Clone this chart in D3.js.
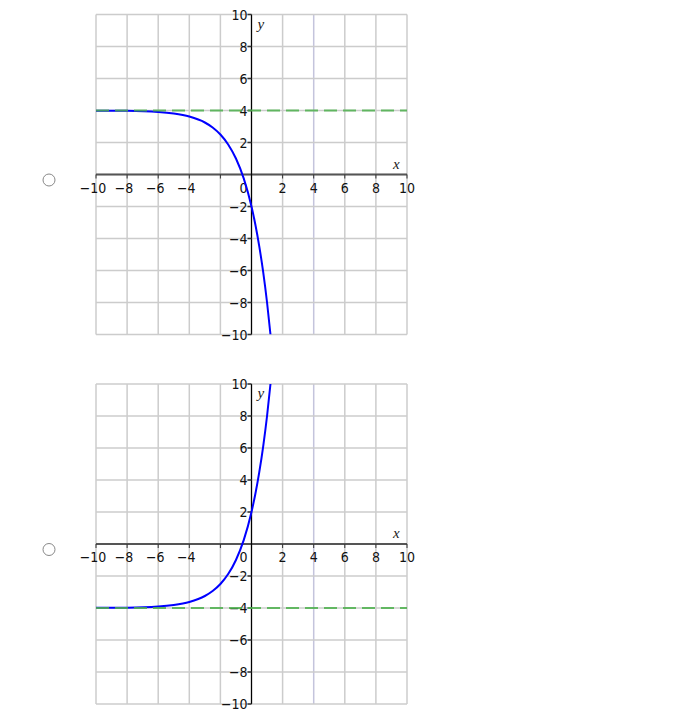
<!DOCTYPE html>
<html>
<head>
<meta charset="utf-8">
<script src="https://cdn.jsdelivr.net/npm/d3@7"></script>
<style>
  body { margin: 0; background: #fff; }
  svg { display: block; }
  .tick-lbl { font-family: "DejaVu Sans Condensed", "DejaVu Sans", sans-serif; font-size: 14px; fill: #111; }
  .ax-name { font-family: "Liberation Serif", serif; font-style: italic; font-size: 15px; fill: #222; }
</style>
</head>
<body>
<svg id="chart" width="698" height="728"></svg>
<script>
// values
const gridTicks = [-10, -8, -6, -4, -2, 0, 2, 4, 6, 8, 10];
const xLabels = [-10, -8, -6, -4, 0, 2, 4, 6, 8, 10];
const yLabels = [-10, -8, -6, -4, -2, 2, 4, 6, 8, 10];

const topCurveX = [-10, -8, -6, -5, -4, -3, -2.5, -2, -1.5, -1, -0.5, 0, 0.25, 0.5, 0.75, 1, 1.22];
const topCurveY = [3.99, 3.98, 3.91, 3.81, 3.62, 3.25, 2.94, 2.5, 1.88, 1.0, -0.24, -2, -3.14, -4.49, -6.09, -8, -10];
const topAsymptote = 4;

const botCurveX = [-10, -8, -6, -5, -4, -3, -2.5, -2, -1.5, -1, -0.5, 0, 0.25, 0.5, 0.75, 1, 1.22];
const botCurveY = [-3.99, -3.98, -3.91, -3.81, -3.62, -3.25, -2.94, -2.5, -1.88, -1.0, 0.24, 2, 3.14, 4.49, 6.09, 8, 10];
const botAsymptote = -4;

const svg = d3.select('#chart');

function drawGraph(top, cx, cy, asym, idx) {
  const x = d3.scaleLinear().domain([-10, 10]).range([96, 407]);
  const y = d3.scaleLinear().domain([10, -10]).range([top, top + 320]);
  const g = svg.append('g');

  const clipId = 'clip' + idx;
  g.append('clipPath').attr('id', clipId)
    .append('rect')
    .attr('x', x(-10)).attr('y', y(10))
    .attr('width', x(10) - x(-10)).attr('height', y(-10) - y(10));

  // grid
  g.selectAll('.vg').data(gridTicks).enter().append('line')
    .attr('x1', d => x(d)).attr('x2', d => x(d))
    .attr('y1', y(10)).attr('y2', y(-10))
    .style('stroke', d => d === 4 ? '#c4c4dc' : '#cccccc')
    .style('stroke-width', 1.5);
  g.selectAll('.hg').data(gridTicks).enter().append('line')
    .attr('y1', d => y(d)).attr('y2', d => y(d))
    .attr('x1', x(-10)).attr('x2', x(10))
    .style('stroke', '#cccccc')
    .style('stroke-width', 1.5);

  // x axis
  g.append('line')
    .attr('x1', x(-10)).attr('x2', x(10))
    .attr('y1', y(0)).attr('y2', y(0))
    .style('stroke', '#555').style('stroke-width', 2);
  g.selectAll('.xt').data(gridTicks.filter(d => d !== 0)).enter().append('line')
    .attr('x1', d => x(d)).attr('x2', d => x(d))
    .attr('y1', y(0)).attr('y2', y(0) + 4)
    .style('stroke', '#333').style('stroke-width', 1);

  // y axis
  g.append('line')
    .attr('x1', x(0)).attr('x2', x(0))
    .attr('y1', y(10)).attr('y2', y(-10))
    .style('stroke', '#000').style('stroke-width', 1.2);
  g.selectAll('.yt').data(gridTicks.filter(d => d !== 0)).enter().append('line')
    .attr('x1', x(0) - 4).attr('x2', x(0))
    .attr('y1', d => y(d)).attr('y2', d => y(d))
    .style('stroke', '#333').style('stroke-width', 1.5);

  // labels
  g.selectAll('.xl').data(xLabels).enter().append('text')
    .attr('class', 'tick-lbl')
    .attr('x', d => d === 0 ? x(0) - 8 : x(d) - (d < 0 ? 3 : 0))
    .attr('y', y(0) + 18)
    .attr('text-anchor', 'middle')
    .text(d => d < 0 ? '\u2212' + Math.abs(d) : d);
  g.selectAll('.yl').data(yLabels).enter().append('text')
    .attr('class', 'tick-lbl')
    .attr('x', x(0) - 4)
    .attr('y', d => y(d) + 5)
    .attr('text-anchor', 'end')
    .text(d => d < 0 ? '\u2212' + Math.abs(d) : d);

  g.append('text').attr('class', 'ax-name')
    .attr('x', x(0) + 6).attr('y', y(10) + 14).text('y');
  g.append('text').attr('class', 'ax-name')
    .attr('x', x(10) - 14).attr('y', y(0) - 6).text('x');

  // curve
  const pts = cx.map((v, i) => [v, cy[i]]);
  const line = d3.line().x(d => x(d[0])).y(d => y(d[1])).curve(d3.curveMonotoneX);
  g.append('path')
    .attr('clip-path', 'url(#' + clipId + ')')
    .attr('d', line(pts))
    .style('fill', 'none')
    .style('stroke', '#0000ff')
    .style('stroke-width', 2);

  // asymptote
  g.append('line')
    .attr('x1', x(-10)).attr('x2', x(10))
    .attr('y1', y(asym)).attr('y2', y(asym))
    .style('stroke', '#4cb04c')
    .style('stroke-opacity', 0.85)
    .style('stroke-width', 2)
    .style('stroke-dasharray', '13,6');

  // radio button
  svg.append('circle')
    .attr('cx', 49).attr('cy', y(0) + 5.5).attr('r', 6)
    .style('fill', '#fff').style('stroke', '#888').style('stroke-width', 1);
}

drawGraph(14.5, topCurveX, topCurveY, topAsymptote, 0);
drawGraph(384, botCurveX, botCurveY, botAsymptote, 1);
</script>
</body>
</html>
